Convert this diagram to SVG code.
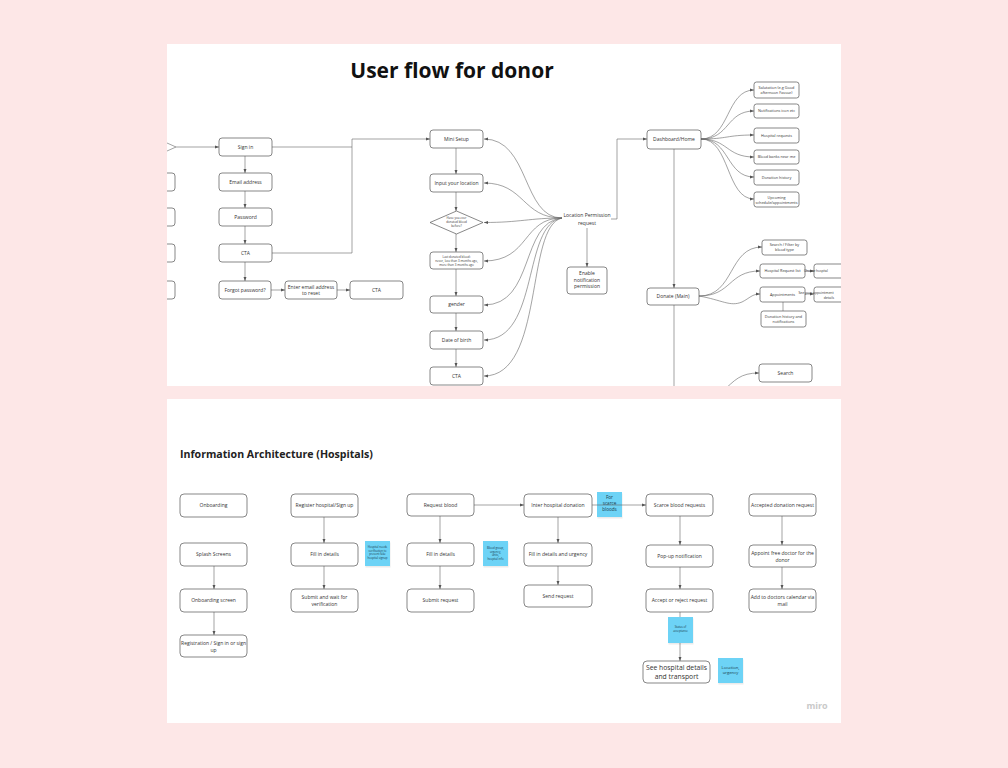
<svg xmlns="http://www.w3.org/2000/svg" width="1008" height="768" viewBox="0 0 1008 768">
<style>
.n{fill:#fff;stroke:#555;stroke-width:0.7}
.t{font-family:"Open Sans","Liberation Sans",sans-serif;font-size:5px;fill:#333;text-anchor:middle}
.ts{font-family:"Open Sans","Liberation Sans",sans-serif;font-size:3.8px;fill:#333;text-anchor:middle}
.tx{font-family:"Open Sans","Liberation Sans",sans-serif;font-size:3px;fill:#333;text-anchor:middle}
.c{fill:none;stroke:#666;stroke-width:0.6}
.st{fill:#6dd3f6}
.sh{fill:#000;opacity:0.08}
.stt{font-family:"Open Sans","Liberation Sans",sans-serif;font-size:2.8px;fill:#1a3a4a;text-anchor:middle}
</style>
<defs>
<marker id="a" viewBox="0 0 6 6" refX="6" refY="3" markerWidth="4" markerHeight="4" markerUnits="userSpaceOnUse" orient="auto"><path d="M0,0.8 L6,3 L0,5.2 z" fill="#555"/></marker>
<clipPath id="top"><rect x="167" y="44" width="674" height="342"/></clipPath>
</defs>
<rect width="1008" height="768" fill="#fde7e7"/>
<rect x="167" y="44" width="674" height="342" fill="#fff"/>
<rect x="167" y="399" width="674" height="324" fill="#fff"/>

<g clip-path="url(#top)">
<text x="452" y="78" font-family="Open Sans, Liberation Sans, sans-serif" font-weight="bold" font-size="21" fill="#111" text-anchor="middle">User flow for donor</text>

<g id="connectors-top">
<path class="c" d="M167,143 L176,147 L167,151"/>
<path class="c" d="M176,147 H219" marker-end="url(#a)"/>
<path class="c" d="M245,156 V173" marker-end="url(#a)"/>
<path class="c" d="M245,191 V208" marker-end="url(#a)"/>
<path class="c" d="M245,226 V244" marker-end="url(#a)"/>
<path class="c" d="M245,262 V281" marker-end="url(#a)"/>
<path class="c" d="M271,290 H285" marker-end="url(#a)"/>
<path class="c" d="M337,290 H350" marker-end="url(#a)"/>
<path class="c" d="M272,147 H352"/>
<path class="c" d="M272,253 H352 V139 H430" marker-end="url(#a)"/>
<path class="c" d="M456,148 V174" marker-end="url(#a)"/>
<path class="c" d="M456,192 V211" marker-end="url(#a)"/>
<path class="c" d="M456,234 V252" marker-end="url(#a)"/>
<path class="c" d="M456,269 V296" marker-end="url(#a)"/>
<path class="c" d="M456,313 V331" marker-end="url(#a)"/>
<path class="c" d="M456,349 V367" marker-end="url(#a)"/>
<path class="c" d="M562,218 C522,218 530,139 484,139" marker-end="url(#a)"/>
<path class="c" d="M562,218 C522,218 525,183 484,183" marker-end="url(#a)"/>
<path class="c" d="M562,218 C530,218 520,222.5 484,222.5" marker-end="url(#a)"/>
<path class="c" d="M562,218 C522,218 530,261 484,261" marker-end="url(#a)"/>
<path class="c" d="M562,218 C520,222 535,305 484,305" marker-end="url(#a)"/>
<path class="c" d="M562,218 C522,224 540,340 484,340" marker-end="url(#a)"/>
<path class="c" d="M562,218 C525,226 545,376 484,376" marker-end="url(#a)"/>
<path class="c" d="M611,219 H617 V139 H647" marker-end="url(#a)"/>
<path class="c" d="M587,228 V267" marker-end="url(#a)"/>
<path class="c" d="M674,149 V288" marker-end="url(#a)"/>
<path class="c" d="M674,305 V390"/>
<path class="c" d="M701,139 C730,139 726,90 754,90" marker-end="url(#a)"/>
<path class="c" d="M701,139 C730,139 726,111 754,111" marker-end="url(#a)"/>
<path class="c" d="M701,139 C728,139 726,135 754,135" marker-end="url(#a)"/>
<path class="c" d="M701,139 C728,139 726,157 754,157" marker-end="url(#a)"/>
<path class="c" d="M701,139 C730,139 726,177 754,177" marker-end="url(#a)"/>
<path class="c" d="M701,139 C730,139 726,199 754,199" marker-end="url(#a)"/>
<path class="c" d="M699,296 C735,296 728,247 762,247" marker-end="url(#a)"/>
<path class="c" d="M699,296 C732,296 728,271 760,271" marker-end="url(#a)"/>
<path class="c" d="M699,296 C722,300 730,307 742,302 C750,298 752,294 760,294" marker-end="url(#a)"/>
<path class="c" d="M805,271 H814" marker-end="url(#a)"/>
<path class="c" d="M805,294 H814" marker-end="url(#a)"/>
<path class="c" d="M783,302 V311"/>
<path class="c" d="M722,392 C735,380 740,373 759,373" marker-end="url(#a)"/>
</g>

<g id="left-partial">
<rect class="n" x="140" y="173" width="35" height="18" rx="3"/>
<rect class="n" x="140" y="208" width="35" height="18" rx="3"/>
<rect class="n" x="140" y="244" width="35" height="18" rx="3"/>
<rect class="n" x="140" y="281" width="35" height="18" rx="3"/>
</g>
<g id="sign-in"><rect class="n" x="219" y="138" width="53" height="18" rx="3"/><text class="t" x="245.5" y="148.8">Sign in</text></g>
<g id="email"><rect class="n" x="219" y="173" width="53" height="18" rx="3"/><text class="t" x="245.5" y="183.8">Email address</text></g>
<g id="password"><rect class="n" x="219" y="208" width="53" height="18" rx="3"/><text class="t" x="245.5" y="218.8">Password</text></g>
<g id="cta1"><rect class="n" x="219" y="244" width="53" height="18" rx="3"/><text class="t" x="245.5" y="254.8">CTA</text></g>
<g id="forgot"><rect class="n" x="219" y="281" width="52" height="18" rx="3"/><text class="t" x="245" y="291.8">Forgot password?</text></g>
<g id="enter-email"><rect class="n" x="285" y="281" width="52" height="18" rx="3"/><text class="t" x="311" y="288.5">Enter email address</text><text class="t" x="311" y="295">to reset</text></g>
<g id="cta2"><rect class="n" x="350" y="281" width="53" height="18" rx="3"/><text class="t" x="376.5" y="291.8">CTA</text></g>

<g id="mini-setup"><rect class="n" x="430" y="130" width="53" height="18" rx="3"/><text class="t" x="456.5" y="140.8">Mini Setup</text></g>
<g id="input-location"><rect class="n" x="430" y="174" width="53" height="18" rx="3"/><text class="t" x="456.5" y="184.8">Input your location</text></g>
<g id="diamond"><polygon class="n" points="456.5,211 483,222.5 456.5,234 430,222.5"/><text class="tx" x="456.5" y="218.5">Have you ever</text><text class="tx" x="456.5" y="222.5">donated blood</text><text class="tx" x="456.5" y="226.5">before?</text></g>
<g id="last-donated"><rect class="n" x="430" y="252" width="53" height="17" rx="3"/><text class="tx" x="456.5" y="257.5">Last donated blood:</text><text class="tx" x="456.5" y="261.5">never, less than 3 months ago,</text><text class="tx" x="456.5" y="265.5">more than 3 months ago</text></g>
<g id="gender"><rect class="n" x="430" y="296" width="53" height="17" rx="3"/><text class="t" x="456.5" y="306.3">gender</text></g>
<g id="dob"><rect class="n" x="430" y="331" width="53" height="18" rx="3"/><text class="t" x="456.5" y="341.8">Date of birth</text></g>
<g id="cta3"><rect class="n" x="430" y="367" width="53" height="18" rx="3"/><text class="t" x="456.5" y="377.8">CTA</text></g>

<g id="location-permission"><text class="t" x="587" y="216.5">Location Permission</text><text class="t" x="587" y="224.5">request</text></g>
<g id="enable-notification"><rect class="n" x="567" y="267" width="40" height="27" rx="3"/><text class="t" x="587" y="275">Enable</text><text class="t" x="587" y="281.5">notification</text><text class="t" x="587" y="288">permission</text></g>

<g id="dashboard"><rect class="n" x="647" y="130" width="54" height="19" rx="3"/><text class="t" x="674" y="141.3">Dashboard/Home</text></g>
<g id="salutation"><rect class="n" x="754" y="82" width="45" height="16" rx="2.5"/><text class="ts" x="776.5" y="89">Salutation (e.g Good</text><text class="ts" x="776.5" y="94">afternoon Favour)</text></g>
<g id="notifications"><rect class="n" x="754" y="104" width="45" height="14" rx="2.5"/><text class="ts" x="776.5" y="112.3">Notifications icon etc</text></g>
<g id="hospital-requests"><rect class="n" x="754" y="128" width="45" height="15" rx="2.5"/><text class="ts" x="776.5" y="136.8">Hospital requests</text></g>
<g id="blood-banks"><rect class="n" x="754" y="150" width="45" height="14" rx="2.5"/><text class="ts" x="776.5" y="158.3">Blood banks near me</text></g>
<g id="donation-history"><rect class="n" x="754" y="170" width="45" height="15" rx="2.5"/><text class="ts" x="776.5" y="178.8">Donation history</text></g>
<g id="upcoming"><rect class="n" x="754" y="192" width="45" height="15" rx="2.5"/><text class="ts" x="776.5" y="198.5">Upcoming</text><text class="ts" x="776.5" y="203.5">schedule/appointments</text></g>

<g id="donate"><rect class="n" x="647" y="288" width="52" height="17" rx="3"/><text class="t" x="673" y="298.3">Donate (Main)</text></g>
<g id="search-filter"><rect class="n" x="762" y="240" width="45" height="15" rx="2.5"/><text class="ts" x="784.5" y="246.3">Search / Filter by</text><text class="ts" x="784.5" y="251.3">blood type</text></g>
<g id="hospital-request-list"><rect class="n" x="760" y="264" width="45" height="14" rx="2.5"/><text class="ts" x="782.5" y="272.3">Hospital Request list</text></g>
<g id="choose-hospital"><rect class="n" x="814" y="264" width="40" height="14" rx="2.5"/><text class="ts" x="816" y="272.3" text-anchor="start" style="font-size:3.2px">Choose hospital</text></g>
<g id="appointments"><rect class="n" x="760" y="287" width="45" height="15" rx="2.5"/><text class="ts" x="782.5" y="295.8">Appointments</text></g>
<g id="see-appointment"><rect class="n" x="814" y="287" width="40" height="15" rx="2.5"/><text class="ts" x="816" y="293.5" text-anchor="start" style="font-size:3.4px">See your appointment</text><text class="ts" x="829" y="298.5" text-anchor="start" style="font-size:3.4px">details</text></g>
<g id="donation-history-notifications"><rect class="n" x="761" y="311" width="45" height="16" rx="2.5"/><text class="ts" x="783.5" y="318">Donation history and</text><text class="ts" x="783.5" y="323">notifications</text></g>
<g id="search"><rect class="n" x="759" y="364" width="53" height="18" rx="3"/><text class="t" x="785.5" y="374.8">Search</text></g>
</g>

<text x="180" y="458" font-family="Open Sans, Liberation Sans, sans-serif" font-weight="bold" font-size="10.6" fill="#222">Information Architecture (Hospitals)</text>

<g id="connectors-bottom">
<path class="c" d="M214,566 V589" marker-end="url(#a)"/>
<path class="c" d="M214,612 V635" marker-end="url(#a)"/>
<path class="c" d="M324,517 V543" marker-end="url(#a)"/>
<path class="c" d="M324,566 V589" marker-end="url(#a)"/>
<path class="c" d="M440,516 V543" marker-end="url(#a)"/>
<path class="c" d="M440,566 V589" marker-end="url(#a)"/>
<path class="c" d="M474,505 H524" marker-end="url(#a)"/>
<path class="c" d="M558,517 V543" marker-end="url(#a)"/>
<path class="c" d="M558,566 V585" marker-end="url(#a)"/>
<path class="c" d="M680,516 V545" marker-end="url(#a)"/>
<path class="c" d="M680,567 V589" marker-end="url(#a)"/>
<path class="c" d="M680,612 V661" marker-end="url(#a)"/>
<path class="c" d="M782,516 V545" marker-end="url(#a)"/>
<path class="c" d="M782,567 V589" marker-end="url(#a)"/>
</g>

<g id="onboarding"><rect class="n" x="180" y="494" width="67" height="23" rx="4"/><text class="t" x="213.5" y="507.3">Onboarding</text></g>
<g id="splash"><rect class="n" x="180" y="543" width="67" height="23" rx="4"/><text class="t" x="213.5" y="556.3">Splash Screens</text></g>
<g id="onboarding-screen"><rect class="n" x="180" y="589" width="67" height="23" rx="4"/><text class="t" x="213.5" y="602.3">Onboarding screen</text></g>
<g id="registration"><rect class="n" x="180" y="635" width="67" height="22" rx="4"/><text class="t" x="213.5" y="644.5">Registration / Sign in or sign</text><text class="t" x="213.5" y="651.5">up</text></g>

<g id="register-hospital"><rect class="n" x="291" y="494" width="67" height="23" rx="4"/><text class="t" x="324.5" y="507.3">Register hospital/Sign up</text></g>
<g id="fill-details-1"><rect class="n" x="291" y="543" width="67" height="23" rx="4"/><text class="t" x="324.5" y="556.3">Fill in details</text></g>
<g id="submit-wait"><rect class="n" x="291" y="589" width="67" height="23" rx="4"/><text class="t" x="324.5" y="599">Submit and wait for</text><text class="t" x="324.5" y="606">verification</text></g>
<g id="sticky-1"><rect class="sh" x="365.5" y="542.5" width="25" height="25"/><rect class="st" x="365" y="541" width="25" height="25"/><text class="stt" x="377.5" y="548">Hospital needs</text><text class="stt" x="377.5" y="551.5">verification to</text><text class="stt" x="377.5" y="555">prevent fake</text><text class="stt" x="377.5" y="558.5">hospital signup</text></g>

<g id="request-blood"><rect class="n" x="407" y="494" width="67" height="22" rx="4"/><text class="t" x="440.5" y="506.8">Request blood</text></g>
<g id="fill-details-2"><rect class="n" x="407" y="543" width="67" height="23" rx="4"/><text class="t" x="440.5" y="556.3">Fill in details</text></g>
<g id="submit-request"><rect class="n" x="407" y="589" width="67" height="23" rx="4"/><text class="t" x="440.5" y="602.3">Submit request</text></g>
<g id="sticky-2"><rect class="sh" x="483.5" y="542.5" width="25" height="25"/><rect class="st" x="483" y="541" width="25" height="25"/><text class="stt" x="495.5" y="549">Blood group,</text><text class="stt" x="495.5" y="552.5">urgency,</text><text class="stt" x="495.5" y="556">units,</text><text class="stt" x="495.5" y="559.5">hospital info</text></g>

<g id="inter-hospital"><rect class="n" x="524" y="494" width="68" height="23" rx="4"/><text class="t" x="558" y="507.3">Inter hospital donation</text></g>
<g id="fill-urgency"><rect class="n" x="524" y="543" width="68" height="23" rx="4"/><text class="t" x="558" y="556.3">Fill in details and urgency</text></g>
<g id="send-request"><rect class="n" x="524" y="585" width="68" height="22" rx="4"/><text class="t" x="558" y="597.8">Send request</text></g>
<g id="sticky-3"><rect class="sh" x="597.5" y="493.5" width="25" height="25"/><rect class="st" x="597" y="492" width="25" height="25"/><text class="t" x="609.5" y="499" style="fill:#1a3a4a;font-size:4.6px">For</text><text class="t" x="609.5" y="505" style="fill:#1a3a4a;font-size:4.6px">scarce</text><text class="t" x="609.5" y="511" style="fill:#1a3a4a;font-size:4.6px">bloods</text></g>
<path class="c" d="M592,505 H646" marker-end="url(#a)"/>

<g id="scarce-requests"><rect class="n" x="646" y="494" width="67" height="22" rx="4"/><text class="t" x="679.5" y="506.8">Scarce blood requests</text></g>
<g id="popup"><rect class="n" x="646" y="545" width="67" height="22" rx="4"/><text class="t" x="679.5" y="557.8">Pop-up notification</text></g>
<g id="accept-reject"><rect class="n" x="646" y="589" width="67" height="23" rx="4"/><text class="t" x="679.5" y="602.3">Accept or reject request</text></g>
<g id="sticky-4"><rect class="sh" x="668.5" y="618.5" width="25" height="26"/><rect class="st" x="668" y="617" width="25" height="26"/><text class="stt" x="680.5" y="628">Status of</text><text class="stt" x="680.5" y="632">acceptance</text></g>
<g id="see-hospital"><rect class="n" x="643" y="661" width="67" height="22" rx="4"/><text class="t" x="676.5" y="670" style="font-size:6.8px">See hospital details</text><text class="t" x="676.5" y="679" style="font-size:6.8px">and transport</text></g>
<g id="sticky-5"><rect class="sh" x="718.5" y="659.5" width="25" height="25"/><rect class="st" x="718" y="658" width="25" height="25"/><text class="t" x="730.5" y="668.5" style="fill:#1a3a4a;font-size:4.2px">Location,</text><text class="t" x="730.5" y="674" style="fill:#1a3a4a;font-size:4.2px">urgency</text></g>

<g id="accepted-donation"><rect class="n" x="749" y="494" width="67" height="22" rx="4"/><text class="t" x="782.5" y="506.8">Accepted donation request</text></g>
<g id="appoint-doctor"><rect class="n" x="749" y="545" width="67" height="22" rx="4"/><text class="t" x="782.5" y="554.5">Appoint free doctor for the</text><text class="t" x="782.5" y="561.5">donor</text></g>
<g id="add-calendar"><rect class="n" x="749" y="589" width="67" height="23" rx="4"/><text class="t" x="782.5" y="599">Add to doctors calendar via</text><text class="t" x="782.5" y="606">mail</text></g>

<text x="817" y="709" font-family="Open Sans, Liberation Sans, sans-serif" font-weight="bold" font-size="9" fill="#c9c9c9" text-anchor="middle">miro</text>
</svg>
